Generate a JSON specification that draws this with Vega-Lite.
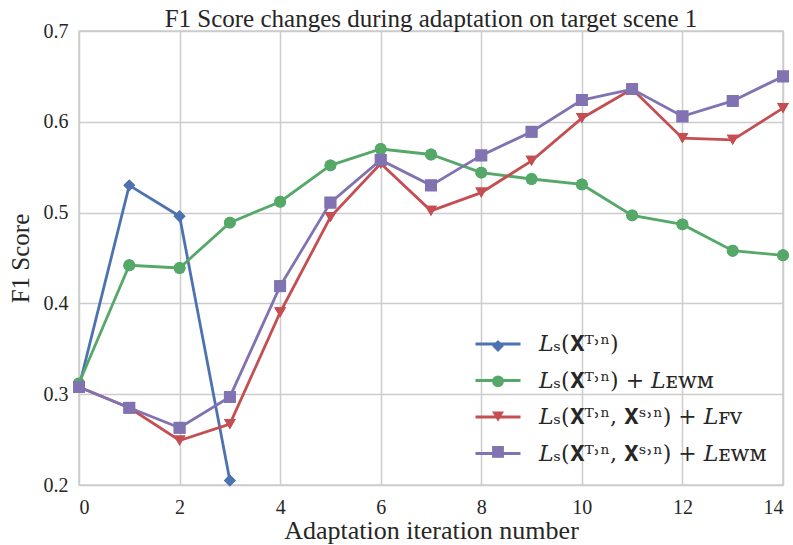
{
  "$schema": "https://vega.github.io/schema/vega-lite/v6.json",
  "width": 704,
  "height": 454,
  "autosize": "none",
  "padding": {"left": 79, "top": 31, "right": 10, "bottom": 60},
  "background": "white",
  "title": {"text": "F1 Score changes during adaptation on target scene 1", "font": "Liberation Serif", "fontSize": 25, "fontWeight": "normal", "color": "#262626", "offset": 8, "dy": 19},
  "data": {"values": [
    {"iter": 0, "f1": 0.308, "loss": "𝐿ₛ(𝐗ᵀ˒ⁿ)"},
    {"iter": 1, "f1": 0.530, "loss": "𝐿ₛ(𝐗ᵀ˒ⁿ)"},
    {"iter": 2, "f1": 0.496, "loss": "𝐿ₛ(𝐗ᵀ˒ⁿ)"},
    {"iter": 3, "f1": 0.205, "loss": "𝐿ₛ(𝐗ᵀ˒ⁿ)"},
    {"iter": 0, "f1": 0.312, "loss": "𝐿ₛ(𝐗ᵀ˒ⁿ) + 𝐿ᴇᴡᴍ"},
    {"iter": 1, "f1": 0.442, "loss": "𝐿ₛ(𝐗ᵀ˒ⁿ) + 𝐿ᴇᴡᴍ"},
    {"iter": 2, "f1": 0.439, "loss": "𝐿ₛ(𝐗ᵀ˒ⁿ) + 𝐿ᴇᴡᴍ"},
    {"iter": 3, "f1": 0.489, "loss": "𝐿ₛ(𝐗ᵀ˒ⁿ) + 𝐿ᴇᴡᴍ"},
    {"iter": 4, "f1": 0.512, "loss": "𝐿ₛ(𝐗ᵀ˒ⁿ) + 𝐿ᴇᴡᴍ"},
    {"iter": 5, "f1": 0.552, "loss": "𝐿ₛ(𝐗ᵀ˒ⁿ) + 𝐿ᴇᴡᴍ"},
    {"iter": 6, "f1": 0.570, "loss": "𝐿ₛ(𝐗ᵀ˒ⁿ) + 𝐿ᴇᴡᴍ"},
    {"iter": 7, "f1": 0.564, "loss": "𝐿ₛ(𝐗ᵀ˒ⁿ) + 𝐿ᴇᴡᴍ"},
    {"iter": 8, "f1": 0.544, "loss": "𝐿ₛ(𝐗ᵀ˒ⁿ) + 𝐿ᴇᴡᴍ"},
    {"iter": 9, "f1": 0.537, "loss": "𝐿ₛ(𝐗ᵀ˒ⁿ) + 𝐿ᴇᴡᴍ"},
    {"iter": 10, "f1": 0.531, "loss": "𝐿ₛ(𝐗ᵀ˒ⁿ) + 𝐿ᴇᴡᴍ"},
    {"iter": 11, "f1": 0.497, "loss": "𝐿ₛ(𝐗ᵀ˒ⁿ) + 𝐿ᴇᴡᴍ"},
    {"iter": 12, "f1": 0.487, "loss": "𝐿ₛ(𝐗ᵀ˒ⁿ) + 𝐿ᴇᴡᴍ"},
    {"iter": 13, "f1": 0.458, "loss": "𝐿ₛ(𝐗ᵀ˒ⁿ) + 𝐿ᴇᴡᴍ"},
    {"iter": 14, "f1": 0.453, "loss": "𝐿ₛ(𝐗ᵀ˒ⁿ) + 𝐿ᴇᴡᴍ"},
    {"iter": 0, "f1": 0.308, "loss": "𝐿ₛ(𝐗ᵀ˒ⁿ, 𝐗ˢ˒ⁿ) + 𝐿ꜰᴠ"},
    {"iter": 1, "f1": 0.285, "loss": "𝐿ₛ(𝐗ᵀ˒ⁿ, 𝐗ˢ˒ⁿ) + 𝐿ꜰᴠ"},
    {"iter": 2, "f1": 0.249, "loss": "𝐿ₛ(𝐗ᵀ˒ⁿ, 𝐗ˢ˒ⁿ) + 𝐿ꜰᴠ"},
    {"iter": 3, "f1": 0.267, "loss": "𝐿ₛ(𝐗ᵀ˒ⁿ, 𝐗ˢ˒ⁿ) + 𝐿ꜰᴠ"},
    {"iter": 4, "f1": 0.390, "loss": "𝐿ₛ(𝐗ᵀ˒ⁿ, 𝐗ˢ˒ⁿ) + 𝐿ꜰᴠ"},
    {"iter": 5, "f1": 0.495, "loss": "𝐿ₛ(𝐗ᵀ˒ⁿ, 𝐗ˢ˒ⁿ) + 𝐿ꜰᴠ"},
    {"iter": 6, "f1": 0.554, "loss": "𝐿ₛ(𝐗ᵀ˒ⁿ, 𝐗ˢ˒ⁿ) + 𝐿ꜰᴠ"},
    {"iter": 7, "f1": 0.502, "loss": "𝐿ₛ(𝐗ᵀ˒ⁿ, 𝐗ˢ˒ⁿ) + 𝐿ꜰᴠ"},
    {"iter": 8, "f1": 0.522, "loss": "𝐿ₛ(𝐗ᵀ˒ⁿ, 𝐗ˢ˒ⁿ) + 𝐿ꜰᴠ"},
    {"iter": 9, "f1": 0.557, "loss": "𝐿ₛ(𝐗ᵀ˒ⁿ, 𝐗ˢ˒ⁿ) + 𝐿ꜰᴠ"},
    {"iter": 10, "f1": 0.604, "loss": "𝐿ₛ(𝐗ᵀ˒ⁿ, 𝐗ˢ˒ⁿ) + 𝐿ꜰᴠ"},
    {"iter": 11, "f1": 0.636, "loss": "𝐿ₛ(𝐗ᵀ˒ⁿ, 𝐗ˢ˒ⁿ) + 𝐿ꜰᴠ"},
    {"iter": 12, "f1": 0.582, "loss": "𝐿ₛ(𝐗ᵀ˒ⁿ, 𝐗ˢ˒ⁿ) + 𝐿ꜰᴠ"},
    {"iter": 13, "f1": 0.580, "loss": "𝐿ₛ(𝐗ᵀ˒ⁿ, 𝐗ˢ˒ⁿ) + 𝐿ꜰᴠ"},
    {"iter": 14, "f1": 0.615, "loss": "𝐿ₛ(𝐗ᵀ˒ⁿ, 𝐗ˢ˒ⁿ) + 𝐿ꜰᴠ"},
    {"iter": 0, "f1": 0.308, "loss": "𝐿ₛ(𝐗ᵀ˒ⁿ, 𝐗ˢ˒ⁿ) + 𝐿ᴇᴡᴍ"},
    {"iter": 1, "f1": 0.285, "loss": "𝐿ₛ(𝐗ᵀ˒ⁿ, 𝐗ˢ˒ⁿ) + 𝐿ᴇᴡᴍ"},
    {"iter": 2, "f1": 0.263, "loss": "𝐿ₛ(𝐗ᵀ˒ⁿ, 𝐗ˢ˒ⁿ) + 𝐿ᴇᴡᴍ"},
    {"iter": 3, "f1": 0.297, "loss": "𝐿ₛ(𝐗ᵀ˒ⁿ, 𝐗ˢ˒ⁿ) + 𝐿ᴇᴡᴍ"},
    {"iter": 4, "f1": 0.419, "loss": "𝐿ₛ(𝐗ᵀ˒ⁿ, 𝐗ˢ˒ⁿ) + 𝐿ᴇᴡᴍ"},
    {"iter": 5, "f1": 0.511, "loss": "𝐿ₛ(𝐗ᵀ˒ⁿ, 𝐗ˢ˒ⁿ) + 𝐿ᴇᴡᴍ"},
    {"iter": 6, "f1": 0.558, "loss": "𝐿ₛ(𝐗ᵀ˒ⁿ, 𝐗ˢ˒ⁿ) + 𝐿ᴇᴡᴍ"},
    {"iter": 7, "f1": 0.530, "loss": "𝐿ₛ(𝐗ᵀ˒ⁿ, 𝐗ˢ˒ⁿ) + 𝐿ᴇᴡᴍ"},
    {"iter": 8, "f1": 0.563, "loss": "𝐿ₛ(𝐗ᵀ˒ⁿ, 𝐗ˢ˒ⁿ) + 𝐿ᴇᴡᴍ"},
    {"iter": 9, "f1": 0.589, "loss": "𝐿ₛ(𝐗ᵀ˒ⁿ, 𝐗ˢ˒ⁿ) + 𝐿ᴇᴡᴍ"},
    {"iter": 10, "f1": 0.624, "loss": "𝐿ₛ(𝐗ᵀ˒ⁿ, 𝐗ˢ˒ⁿ) + 𝐿ᴇᴡᴍ"},
    {"iter": 11, "f1": 0.636, "loss": "𝐿ₛ(𝐗ᵀ˒ⁿ, 𝐗ˢ˒ⁿ) + 𝐿ᴇᴡᴍ"},
    {"iter": 12, "f1": 0.606, "loss": "𝐿ₛ(𝐗ᵀ˒ⁿ, 𝐗ˢ˒ⁿ) + 𝐿ᴇᴡᴍ"},
    {"iter": 13, "f1": 0.623, "loss": "𝐿ₛ(𝐗ᵀ˒ⁿ, 𝐗ˢ˒ⁿ) + 𝐿ᴇᴡᴍ"},
    {"iter": 14, "f1": 0.650, "loss": "𝐿ₛ(𝐗ᵀ˒ⁿ, 𝐗ˢ˒ⁿ) + 𝐿ᴇᴡᴍ"}
  ]},
  "encoding": {
    "x": {"field": "iter", "type": "quantitative", "title": "Adaptation iteration number",
      "scale": {"domain": [0, 14], "nice": false, "zero": false},
      "axis": {"values": [0, 2, 4, 6, 8, 10, 12, 14], "labelPadding": 12, "titlePadding": 0, "titleFontSize": 26}},
    "y": {"field": "f1", "type": "quantitative", "title": "F1 Score",
      "scale": {"domain": [0.2, 0.7], "nice": false, "zero": false},
      "axis": {"values": [0.2, 0.3, 0.4, 0.5, 0.6, 0.7], "format": ".1f", "labelPadding": 11, "titlePadding": 10}}
  },
  "layer": [
    {
      "mark": {"type": "point", "filled": true, "opacity": 1, "size": 140},
      "encoding": {
        "fill": {"field": "loss", "type": "nominal",
          "scale": {"domain": ["𝐿ₛ(𝐗ᵀ˒ⁿ)", "𝐿ₛ(𝐗ᵀ˒ⁿ) + 𝐿ᴇᴡᴍ", "𝐿ₛ(𝐗ᵀ˒ⁿ, 𝐗ˢ˒ⁿ) + 𝐿ꜰᴠ", "𝐿ₛ(𝐗ᵀ˒ⁿ, 𝐗ˢ˒ⁿ) + 𝐿ᴇᴡᴍ"], "range": ["#4c72b0", "#55a868", "#c44e52", "#8172b2"]},
          "legend": {"orient": "bottom-right", "offset": 23, "title": null, "padding": 0, "labelExpr": "''", "labelFontSize": 20, "labelOffset": 252, "rowPadding": 15.3, "symbolSize": 140, "symbolOpacity": 1, "symbolStrokeWidth": 0}},
        "shape": {"field": "loss", "type": "nominal",
          "scale": {"domain": ["𝐿ₛ(𝐗ᵀ˒ⁿ)", "𝐿ₛ(𝐗ᵀ˒ⁿ) + 𝐿ᴇᴡᴍ", "𝐿ₛ(𝐗ᵀ˒ⁿ, 𝐗ˢ˒ⁿ) + 𝐿ꜰᴠ", "𝐿ₛ(𝐗ᵀ˒ⁿ, 𝐗ˢ˒ⁿ) + 𝐿ᴇᴡᴍ"], "range": ["diamond", "circle", "triangle-down", "square"]},
          "legend": {"orient": "bottom-right", "offset": 23, "title": null, "padding": 0, "labelExpr": "''", "labelFontSize": 20, "labelOffset": 252, "rowPadding": 15.3, "symbolSize": 140}}
      }
    },
    {
      "mark": {"type": "line", "strokeWidth": 2.8},
      "encoding": {
        "color": {"field": "loss", "type": "nominal",
          "scale": {"domain": ["𝐿ₛ(𝐗ᵀ˒ⁿ)", "𝐿ₛ(𝐗ᵀ˒ⁿ) + 𝐿ᴇᴡᴍ", "𝐿ₛ(𝐗ᵀ˒ⁿ, 𝐗ˢ˒ⁿ) + 𝐿ꜰᴠ", "𝐿ₛ(𝐗ᵀ˒ⁿ, 𝐗ˢ˒ⁿ) + 𝐿ᴇᴡᴍ"], "range": ["#4c72b0", "#55a868", "#c44e52", "#8172b2"]},
          "legend": {"orient": "none", "legendX": 395, "legendY": 289, "title": null, "padding": 0, "symbolType": "stroke", "symbolSize": 2025, "symbolStrokeWidth": 2.8, "labelFont": "DejaVu Serif", "labelFontSize": 22, "labelColor": "#262626", "labelOffset": 17, "labelLimit": 400, "rowPadding": 1.5}}
      }
    },
    {
      "mark": {"type": "point", "filled": true, "opacity": 1, "size": 140},
      "encoding": {
        "fill": {"field": "loss", "type": "nominal", "legend": null},
        "shape": {"field": "loss", "type": "nominal", "legend": null}
      }
    }
  ],
  "config": {
    "font": "Liberation Serif",
    "view": {"stroke": "#cccccc", "strokeWidth": 1.5},
    "axis": {"grid": true, "gridColor": "#cccccc", "gridWidth": 1.5, "domain": false, "ticks": false,
      "labelFont": "Liberation Serif", "labelFontSize": 20, "labelColor": "#262626",
      "titleFont": "Liberation Serif", "titleFontSize": 25, "titleFontWeight": "normal", "titleColor": "#262626"}
  }
}
